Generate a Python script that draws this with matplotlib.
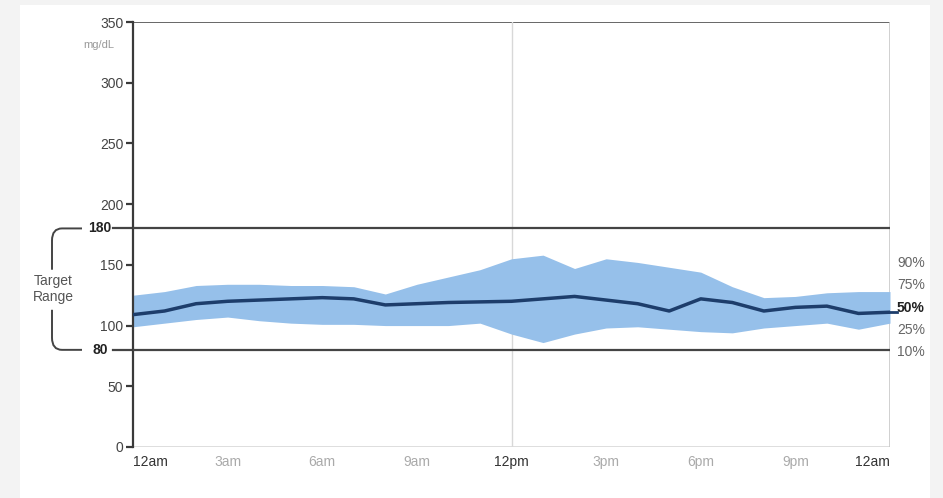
import numpy as np
import matplotlib
matplotlib.use("Agg")
import matplotlib.pyplot as plt
from matplotlib.path import Path
from matplotlib.patches import PathPatch, Rectangle

# ------------------------------------------------------------------ #
# Data                                       #
# ------------------------------------------------------------------ #
hours = [0, 1, 2, 3, 4, 5, 6, 7, 8, 9, 10, 11, 12,
         13, 14, 15, 16, 17, 18, 19, 20, 21, 22, 23, 24]
median = [109, 112, 118, 120, 121, 122, 123, 122, 117, 118, 119, 119.5, 120,
          122, 124, 121, 118, 112, 122, 119, 112, 115, 116, 110, 111]
upper = [125, 128, 133, 134, 134, 133, 133, 132, 126, 134, 140, 146, 155,
         158, 147, 155, 152, 148, 144, 132, 123, 124, 127, 128, 128]
lower = [99, 102, 105, 107, 104, 102, 101, 101, 100, 100, 100, 102, 93,
         86, 93, 98, 99, 97, 95, 94, 98, 100, 102, 97, 102]

y_ticks = [0, 50, 100, 150, 200, 250, 300, 350]
x_ticks = [0, 3, 6, 9, 12, 15, 18, 21, 24]
x_labels = ["12am", "3am", "6am", "9am", "12pm", "3pm", "6pm", "9pm", "12am"]
target_low, target_high = 80, 180
pct_labels = ["90%", "75%", "50%", "25%", "10%"]

FONT = ["Liberation Sans Narrow", "Liberation Sans", "DejaVu Sans"]
BAND = "#96c0ea"
LINE = "#1d3d6b"
DARK = "#3a3a3a"

plt.rcParams["font.family"] = FONT

fig = plt.figure(figsize=(9.43, 4.98), dpi=100, facecolor="#f3f3f3")
fig.patches.append(Rectangle((20 / 943, 0.0), 910 / 943, 1 - 5 / 498,
                             transform=fig.transFigure, facecolor="white",
                             edgecolor="none", zorder=-10))
ax = fig.add_axes([133 / 943, 1 - 447 / 498, 757 / 943, 425 / 498])
ax.set_facecolor("none")

# band + median
ax.fill_between(hours, lower, upper, color=BAND, linewidth=0, zorder=2)
ax.plot(hours, median, color=LINE, linewidth=2.5, zorder=3,
        solid_joinstyle="round", solid_capstyle="round")

ax.set_xlim(0, 24)
ax.set_ylim(0, 350)

# spines / reference lines
for s in ["top", "right", "bottom"]:
    ax.spines[s].set_visible(False)
ax.spines["left"].set_color(DARK)
ax.spines["left"].set_linewidth(1.6)
ax.axhline(350, color="#666666", linewidth=1.4, zorder=1)
ax.axhline(0, color="#d8d8d8", linewidth=1.2, zorder=1)
ax.axvline(12, color="#d8d8d8", linewidth=1.0, zorder=1)
ax.axvline(24, color="#c8c8c8", linewidth=1.2, zorder=1)
ax.axhline(target_high, color="#444444", linewidth=1.6, zorder=4)
ax.axhline(target_low, color="#444444", linewidth=1.6, zorder=4)

# y ticks
ax.set_yticks(y_ticks)
ax.set_yticklabels([str(v) for v in y_ticks], fontsize=10, color="#444444")
ax.tick_params(axis="y", length=5, width=1.6, color=DARK, pad=2)

# x ticks: first left, last right, others centered
ax.set_xticks(x_ticks)
ax.set_xticklabels(x_labels, fontsize=10)
ax.tick_params(axis="x", length=0, pad=6)
for i, t in enumerate(ax.get_xticklabels()):
    bold = x_labels[i] in ("12am", "12pm")
    t.set_color("#333333" if bold else "#aaaaaa")
    if i == 0:
        t.set_ha("left")
    elif i == len(x_labels) - 1:
        t.set_ha("right")

# unit label
ax.text(-0.045, 335, "mg/dL", transform=ax.get_yaxis_transform(),
        ha="center", va="top", fontsize=8, color="#999999")

# target range bracket (x in axes fraction, y in data)
tr = ax.get_yaxis_transform()
px = lambda p: (p - 133) / 757.0
for yv, lab in [(target_high, "180"), (target_low, "80")]:
    ax.plot([px(113), 0], [yv, yv], color="#444444", linewidth=1.6,
            transform=tr, clip_on=False)
    ax.text(px(100), yv, lab, transform=tr, ha="center", va="center",
            fontsize=10, fontweight="bold", color="#222222")

xb, xe, r = px(52), px(82), 10
verts = [(xe, target_high), (px(62), target_high), (xb, target_high),
         (xb, target_high - r), (xb, 146),
         (xb, 113), (xb, target_low + r), (xb, target_low),
         (px(62), target_low), (xe, target_low)]
codes = [Path.MOVETO, Path.LINETO, Path.CURVE3, Path.CURVE3, Path.LINETO,
         Path.MOVETO, Path.LINETO, Path.CURVE3, Path.CURVE3, Path.LINETO]
ax.add_patch(PathPatch(Path(verts, codes), transform=tr, fill=False,
                       edgecolor="#444444", linewidth=1.4, clip_on=False))
ax.text(px(53), 130, "Target\nRange", transform=tr, ha="center",
        va="center", fontsize=10, color="#555555", linespacing=1.2)

# percentile labels on the right
pct_y = [263, 285, 308, 330, 352]
for lab, yp in zip(pct_labels, pct_y):
    bold = lab == "50%"
    fig.text(897 / 943, 1 - yp / 498, lab, ha="left", va="center",
             fontsize=10, color="#222222" if bold else "#666666",
             fontweight="bold" if bold else "normal")
ax.plot([1.0, 1.009], [median[-1], median[-1]], color=LINE, linewidth=2,
        transform=ax.get_yaxis_transform(), clip_on=False)

fig.savefig("out.png", dpi=100, facecolor=fig.get_facecolor())
